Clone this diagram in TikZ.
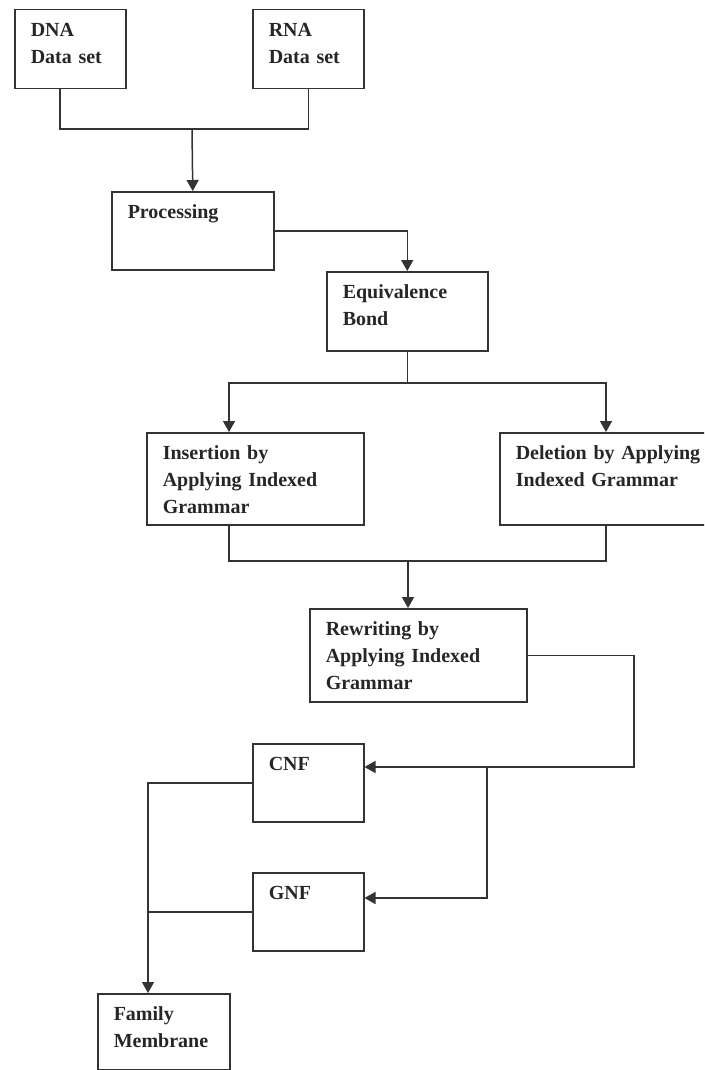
\documentclass[tikz,border=0pt]{standalone}
\usepackage{fontspec}
\setmainfont{Liberation Serif}
\usepackage{tikz}
\usetikzlibrary{arrows.meta}
\tikzstyle{arrow} = [line width=1.5pt,draw=black!80,-{Triangle[length=11pt,width=12pt]}]
\tikzstyle{wire} = [line width=1.5pt,draw=black!80]
\tikzset{blk/.style 2 args={draw=black!80, line width=1.5pt, anchor=north west, align=left,
    inner xsep=16pt, inner ysep=13pt, text width=#1, text height=14pt, text depth=#2,
    text=black!85, font=\fontsize{20}{27}\selectfont\bfseries}}

\begin{document}
\begin{tikzpicture}[x=1pt,y=-1pt]
  \useasboundingbox (0,0) rectangle (704,1070);
  \clip (0,0) rectangle (704,1070);

  % boxes
  \node[blk={79pt}{39pt}] (dna) at (14,9) {DNA\\Data set};
  \node[blk={79pt}{39pt}] (rna) at (252,9) {RNA\\Data set};
  \node[blk={130pt}{38pt}] (proc) at (111,191) {Processing};
  \node[blk={129pt}{39pt}] (equiv) at (326,271) {Equivalence\\Bond};
  \node[blk={185pt}{52pt}] (ins) at (146,432) {Insertion by\\Applying Indexed\\Grammar};
  \node[blk={208pt}{52pt}] (del) at (499,432) {Deletion by Applying\\Indexed Grammar};
  \node[blk={185pt}{53pt}] (rew) at (309,608) {Rewriting by\\Applying Indexed\\Grammar};
  \node[blk={79pt}{38pt}] (cnf) at (252,743) {CNF};
  \node[blk={79pt}{38pt}] (gnf) at (252,872) {GNF};
  \node[blk={100pt}{36pt}] (fam) at (97,993) {Family\\Membrane};

  % joints
  \coordinate (j1) at (192,129);
  \coordinate (j2) at (equiv.south |- 0,383);
  \coordinate (j3) at (408,561);
  \coordinate (c1) at (634,767);
  \coordinate (j4) at (487,767);
  \coordinate (j5) at ([xshift=51pt]fam.north west);

  % connectors
  \draw[wire] ([xshift=46pt]dna.south west) |- (j1) -| (rna.south);
  \draw[arrow] (j1) -- (proc.north);
  \draw[arrow] (proc.east) -| (equiv.north);
  \draw[wire] (equiv.south) -- (j2);
  \draw[arrow] (j2) -| ([xshift=83pt]ins.north west);
  \draw[arrow] (j2) -| ([xshift=107pt]del.north west);
  \draw[wire] ([xshift=83pt]ins.south west) |- (j3) -| ([xshift=107pt]del.south west);
  \draw[arrow] (j3) -- ([xshift=99pt]rew.north west);
  \draw[arrow] (rew.east) -| (c1) -- ([yshift=-24pt]cnf.north east);
  \draw[arrow] (j4) |- ([yshift=-26pt]gnf.north east);
  \draw[arrow] (cnf.west) -| (j5);
  \draw[wire] (gnf.west) -- (j5 |- gnf.west);
\end{tikzpicture}
\end{document}
